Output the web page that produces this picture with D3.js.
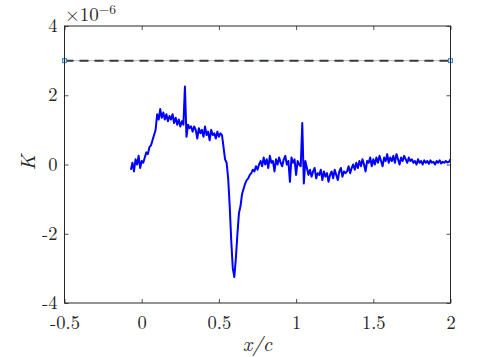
<!DOCTYPE html>
<html>
<head>
<meta charset="utf-8">
<script src="https://cdn.jsdelivr.net/npm/d3@7"></script>
<style>
  html, body { margin: 0; padding: 0; background: #fff; }
  svg { display: block; }
</style>
</head>
<body>
<svg id="chart" width="498" height="357" font-family="Latin Modern Roman"></svg>
<script>
// ---- data ----
const xStart = -0.07;        // first sample position (x/c)
const xStep = 0.01;          // sample spacing (x/c)
const kValues = [
  // -0.07 .. 0.00
  -0.15, 0.05, -0.2, 0.15, 0.0, 0.25, -0.1, 0.1,
  // 0.01 .. 0.05
  0.05, 0.2, 0.35, 0.3, 0.5,
  // 0.06 .. 0.09
  0.55, 0.7, 0.85, 1.0,
  // 0.10 .. 0.12
  1.45, 1.3, 1.6,
  // 0.13 .. 0.27
  1.35, 1.5, 1.3, 1.45, 1.25, 1.4, 1.3, 1.45, 1.2, 1.35, 1.15, 1.3, 1.1, 1.25, 1.15,
  // 0.28 .. 0.30
  2.25, 0.8, 1.15,
  // 0.31 .. 0.52
  1.05, 1.1, 0.95, 1.1, 1.0, 0.75, 1.05, 0.9, 1.0, 0.8, 1.1, 0.85, 0.95, 0.7, 1.0, 0.85, 0.9, 0.75, 0.95, 0.8, 0.9, 0.85,
  // 0.53 .. 0.60
  0.5, 0.15, 0.05, -0.4, -1.2, -2.2, -3.0, -3.25,
  // 0.61 .. 0.76
  -2.7, -2.0, -1.4, -1.2, -0.85, -0.7, -0.55, -0.45, -0.4, -0.3, -0.25, -0.15, -0.2, -0.05, -0.15, 0.0,
  // 0.77 .. 1.03
  0.1, -0.05, 0.2, 0.0, 0.15, -0.1, 0.25, 0.05, 0.1, -0.2, 0.15, 0.0, 0.2, 0.05, -0.05, 0.15, 0.25, 0.0, 0.1, -0.5, 0.2, 0.05, 0.15, -0.3, 0.1, 0.0, -0.05,
  // 1.04 .. 1.06
  1.2, -0.55, 0.1,
  // 1.07 .. 1.32
  -0.1, -0.3, -0.15, -0.35, -0.2, -0.1, -0.4, -0.25, -0.3, -0.15, -0.45, -0.2, -0.35, -0.25, -0.5, -0.3, -0.2, -0.4, -0.15, -0.3, -0.45, -0.2, -0.1, -0.35, -0.2, -0.25,
  // 1.33 .. 1.60
  -0.2, -0.05, -0.25, -0.1, 0.0, -0.15, 0.05, -0.1, 0.1, -0.05, 0.15, 0.0, -0.2, 0.1, 0.05, 0.2, -0.05, 0.15, 0.0, 0.2, 0.05, 0.25, 0.1, -0.05, 0.2, 0.1, 0.3, 0.05,
  // 1.61 .. 1.75
  0.2, 0.1, 0.25, 0.05, 0.3, 0.15, 0.0, 0.2, 0.1, 0.25, 0.15, 0.05, 0.2, 0.1, 0.15,
  // 1.76 .. 2.00
  0.05, 0.1, 0.0, 0.15, 0.05, 0.1, 0.0, 0.12, 0.05, 0.1, 0.02, 0.12, 0.05, 0.08, 0.0, 0.1, 0.05, 0.12, 0.03, 0.08, 0.05, 0.1, 0.06, 0.08, 0.15
];
const refX = [-0.5, 2];      // reference line endpoints
const refK = [3, 3];
const xTicks = [-0.5, 0, 0.5, 1, 1.5, 2];
const xTickLabels = ["-0.5", "0", "0.5", "1", "1.5", "2"];
const yTicks = [-4, -2, 0, 2, 4];
const yTickLabels = ["-4", "-2", "0", "2", "4"];

// ---- layout ----
const FONT = "Latin Modern Roman";
const svg = d3.select("#chart");
const L = 64.5, R = 450.5, T = 26, B = 303;
const x = d3.scaleLinear().domain([-0.5, 2]).range([L, R]);
const y = d3.scaleLinear().domain([-4, 4]).range([B, T]);
const axisColor = "#262626";

const series = kValues.map((k, i) => ({ x: +(xStart + i * xStep).toFixed(2), k }));

// reference line (underlying light line + dashed black on top + square markers)
const refData = refX.map((v, i) => ({ x: v, k: refK[i] }));
const lineGen = d3.line().x(d => x(d.x)).y(d => y(d.k));
svg.append("path").datum(refData).attr("d", lineGen)
  .attr("fill", "none").attr("stroke", "#a8b8c8").attr("stroke-width", 1);
svg.append("path").datum(refData).attr("d", lineGen)
  .attr("fill", "none").attr("stroke", "#3a3a3a").attr("stroke-width", 2)
  .attr("stroke-dasharray", "9,6");
svg.selectAll("rect.mk").data(refData).enter().append("rect").attr("class", "mk")
  .attr("x", d => x(d.x) - 2).attr("y", d => y(d.k) - 2)
  .attr("width", 4).attr("height", 4)
  .attr("fill", "#cfe3f5").attr("stroke", "#3c8ad0").attr("stroke-width", 1);

// main curve
svg.append("path").datum(series).attr("d", lineGen)
  .attr("fill", "none").attr("stroke", "#0000ff").attr("stroke-width", 2)
  .attr("stroke-linejoin", "round");

// axes (MATLAB box style, inward ticks)
const tl = 4;
const xb = svg.append("g").attr("transform", `translate(0,${B})`)
  .call(d3.axisBottom(x).tickValues(xTicks).tickSize(-tl).tickPadding(10)
    .tickFormat((d, i) => xTickLabels[i]));
const xt = svg.append("g").attr("transform", `translate(0,${T})`)
  .call(d3.axisTop(x).tickValues(xTicks).tickSize(-tl).tickFormat(""));
const yl = svg.append("g").attr("transform", `translate(${L},0)`)
  .call(d3.axisLeft(y).tickValues(yTicks).tickSize(-tl).tickPadding(7)
    .tickFormat((d, i) => yTickLabels[i]));
const yr = svg.append("g").attr("transform", `translate(${R},0)`)
  .call(d3.axisRight(y).tickValues(yTicks).tickSize(-tl).tickFormat(""));
[xb, xt, yl, yr].forEach(g => {
  g.attr("font-family", FONT).attr("font-size", 18.5);
  g.select(".domain").remove();
  g.selectAll(".tick line").attr("stroke", axisColor).attr("stroke-width", 0.8);
  g.selectAll(".tick text").attr("fill", axisColor);
});
xb.selectAll(".tick text").attr("dy", "0.85em");
yl.selectAll(".tick text").attr("dy", "0.3em");
// box
svg.append("rect").attr("x", L).attr("y", T).attr("width", R - L).attr("height", B - T)
  .attr("fill", "none").attr("stroke", axisColor).attr("stroke-width", 1);

// axis labels
svg.append("text").attr("x", (L + R) / 2).attr("y", 351).attr("text-anchor", "middle")
  .attr("font-family", FONT).attr("font-size", 20.5).attr("font-style", "italic")
  .attr("fill", axisColor).text("x/c");
svg.append("text").attr("transform", `translate(35,${(T + B) / 2 - 2}) rotate(-90)`)
  .attr("text-anchor", "middle").attr("font-family", FONT).attr("font-size", 20.5)
  .attr("font-style", "italic").attr("fill", axisColor).text("K");

// exponent label
const ex = svg.append("text").attr("x", 65).attr("y", 21)
  .attr("font-family", FONT).attr("font-size", 19).attr("fill", axisColor);
ex.append("tspan").text("×10");
ex.append("tspan").attr("dy", -7).attr("font-size", 13.5).text("−6");
</script>
</body>
</html>
